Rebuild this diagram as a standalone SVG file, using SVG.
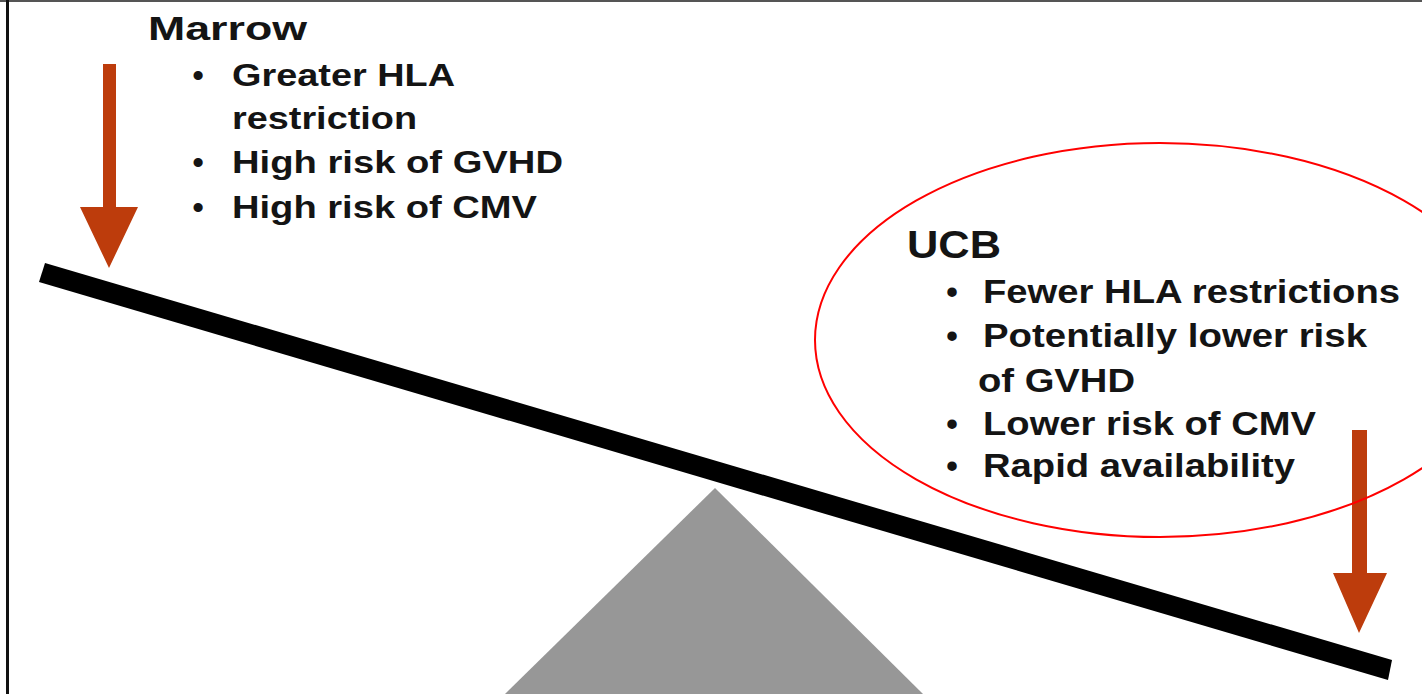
<svg xmlns="http://www.w3.org/2000/svg" width="1422" height="694" viewBox="0 0 1422 694">
  <style>
    .t { font-family: "Liberation Sans", Arial, sans-serif; font-weight: bold; fill: #141414; }
    .hl { font-size: 34px; }
    .hr { font-size: 38px; }
    .bl { font-size: 32px; }
    .br { font-size: 33px; }
    .arrow { fill: #BD3C0C; }
  </style>
  <rect x="0" y="0" width="1422" height="694" fill="#ffffff"/>
  <rect x="0" y="0" width="1422" height="2" fill="#555555"/>
  <rect x="6" y="0" width="3" height="694" fill="#111111"/>

  <g id="fulcrum">
    <polygon points="715,488 505,694 923,694" fill="#979797"/>
  </g>

  <g id="beam">
    <polygon points="45,263 1392,660 1388,680 39,282" fill="#000000"/>
  </g>

  <g id="connectors">
    <polygon class="arrow" points="103,64 116,64 116,207 138,207 109,268 80,207 103,207"/>
    <polygon class="arrow" points="1352,430 1367,430 1367,573 1387,573 1359,633 1333,573 1352,573"/>
  </g>

  <g id="marrow">
    <text class="t hl" x="148" y="40" textLength="159" lengthAdjust="spacingAndGlyphs">Marrow</text>
    <text class="t bl" x="198" y="86" text-anchor="middle">•</text>
    <text class="t bl" x="232" y="86" textLength="223" lengthAdjust="spacingAndGlyphs">Greater HLA</text>
    <text class="t bl" x="232" y="129" textLength="185" lengthAdjust="spacingAndGlyphs">restriction</text>
    <text class="t bl" x="198" y="173" text-anchor="middle">•</text>
    <text class="t bl" x="232" y="173" textLength="331" lengthAdjust="spacingAndGlyphs">High risk of GVHD</text>
    <text class="t bl" x="198" y="218" text-anchor="middle">•</text>
    <text class="t bl" x="232" y="218" textLength="305" lengthAdjust="spacingAndGlyphs">High risk of CMV</text>
  </g>

  <g id="ucb">
    <ellipse cx="1160" cy="340" rx="345" ry="197" fill="none" stroke="#ff0000" stroke-width="2"/>
    <text class="t hr" x="907" y="258" textLength="94" lengthAdjust="spacingAndGlyphs">UCB</text>
    <text class="t br" x="952" y="303" text-anchor="middle">•</text>
    <text class="t br" x="983" y="303" textLength="417" lengthAdjust="spacingAndGlyphs">Fewer HLA restrictions</text>
    <text class="t br" x="952" y="347" text-anchor="middle">•</text>
    <text class="t br" x="983" y="347" textLength="384" lengthAdjust="spacingAndGlyphs">Potentially lower risk</text>
    <text class="t br" x="978" y="392" textLength="157" lengthAdjust="spacingAndGlyphs">of GVHD</text>
    <text class="t br" x="952" y="435" text-anchor="middle">•</text>
    <text class="t br" x="983" y="435" textLength="333" lengthAdjust="spacingAndGlyphs">Lower risk of CMV</text>
    <text class="t br" x="952" y="477" text-anchor="middle">•</text>
    <text class="t br" x="983" y="477" textLength="312" lengthAdjust="spacingAndGlyphs">Rapid availability</text>
  </g>
</svg>
